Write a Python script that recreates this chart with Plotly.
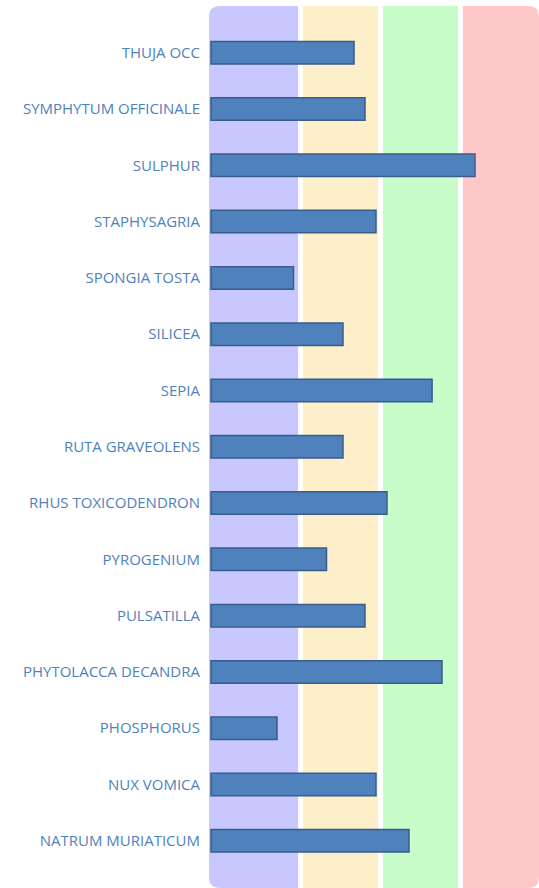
import plotly.graph_objects as go

categories = ["THUJA OCC", "SYMPHYTUM OFFICINALE", "SULPHUR", "STAPHYSAGRIA", "SPONGIA TOSTA",
              "SILICEA", "SEPIA", "RUTA GRAVEOLENS", "RHUS TOXICODENDRON", "PYROGENIUM",
              "PULSATILLA", "PHYTOLACCA DECANDRA", "PHOSPHORUS", "NUX VOMICA", "NATRUM MURIATICUM"]
values = [13, 14, 24, 15, 7.5, 12, 20.1, 12, 16, 10.5, 14, 21, 6, 15, 18]

W, H = 539, 888
ML, MR, MT, MB = 209, 0, 6, 0
PW, PH = W - ML - MR, H - MT - MB

fig = go.Figure(go.Bar(
    x=values, y=categories, orientation="h",
    marker=dict(color="#4f81bd", line=dict(color="#385d8a", width=1.5)),
))

# background bands (paper coords) with rounded outer corners
band_px = [(0, 89, "#c8c8ff"), (94, 169, "#fdefc9"), (174, 249, "#c8fcc8"), (254, 330, "#ffc8c8")]
r = 11
rx, ry = r / PW, r / PH
shapes = []
for i, (a, b, col) in enumerate(band_px):
    x0, x1 = a / PW, b / PW
    if i == 0:
        path = (f"M {x0+rx},0 L {x1},0 L {x1},1 L {x0+rx},1 Q {x0},1 {x0},{1-ry} "
                f"L {x0},{ry} Q {x0},0 {x0+rx},0 Z")
    elif i == len(band_px) - 1:
        path = (f"M {x0},0 L {x1-rx},0 Q {x1},0 {x1},{ry} L {x1},{1-ry} Q {x1},1 {x1-rx},1 "
                f"L {x0},1 Z")
    else:
        path = f"M {x0},0 L {x1},0 L {x1},1 L {x0},1 Z"
    shapes.append(dict(type="path", xref="paper", yref="paper", path=path,
                       fillcolor=col, line=dict(width=0), layer="below"))

px_per_unit = 11
xmin = -2.0 / px_per_unit
xmax = xmin + PW / px_per_unit

fig.update_layout(
    width=W, height=H,
    margin=dict(l=ML, r=MR, t=MT, b=MB),
    paper_bgcolor="white", plot_bgcolor="rgba(0,0,0,0)",
    shapes=shapes,
    bargap=0.6,
    showlegend=False,
    font=dict(family="Open Sans", size=15, color="#4f81bd"),
)
fig.update_xaxes(range=[xmin, xmax], visible=False, showgrid=False, zeroline=False)
fig.update_yaxes(type="category", categoryorder="array", categoryarray=categories,
                 range=[14.838, -0.83], showgrid=False, zeroline=False, showline=False,
                 ticks="", ticklabelstandoff=8, automargin=False,
                 tickfont=dict(family="Open Sans", size=15, color="#4f81bd"))

fig.write_html("out.html", config={"displayModeBar": False},
               post_script="document.body.style.margin='0';")
